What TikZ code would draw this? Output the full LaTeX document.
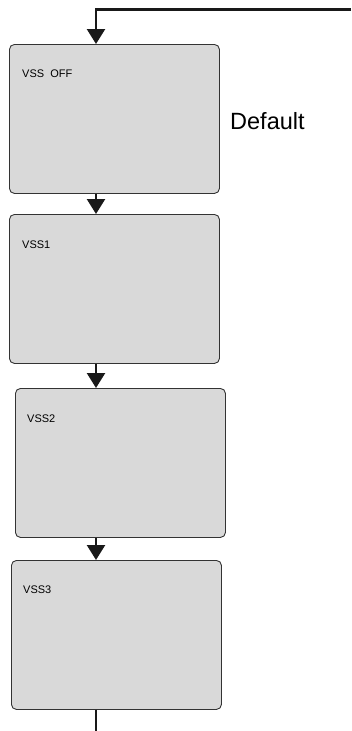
\documentclass[tikz,border=0pt]{standalone}
\usepackage{fontspec}
\setmainfont{Liberation Sans}
\usetikzlibrary{arrows.meta}

\begin{document}
\begin{tikzpicture}[x=1pt, y=-1pt,
  menubox/.style={draw=black!80, line width=0.9pt, rounded corners=5pt, fill=black!15, minimum width=210pt, minimum height=149pt, anchor=north west, inner sep=0pt},
  tag/.style={font=\fontsize{11}{13}\selectfont, anchor=base west, inner sep=0pt},
  line/.style={draw=black!90, line width=2.4pt},
  flow/.style={line, -{Triangle[width=18pt, length=15pt]}}
]
\useasboundingbox (0,0) rectangle (351,731);

\node[menubox] (off) at (9,44) {};
\node[menubox] (vss1) at (9,214) {};
\node[menubox] (vss2) at (15,388) {};
\node[menubox] (vss3) at (11,560) {};

\node[tag] (offt) at ([xshift=13pt, yshift=-33pt]off.north west) {VSS\ \ OFF};
\node[tag] (vss1t) at ([xshift=13pt, yshift=-34pt]vss1.north west) {VSS1};
\node[tag] (vss2t) at ([xshift=12pt, yshift=-34pt]vss2.north west) {VSS2};
\node[tag] (vss3t) at ([xshift=12pt, yshift=-33pt]vss3.north west) {VSS3};

\node[font=\fontsize{23.5}{26}\selectfont, anchor=base west, inner sep=0pt] (dflt) at (230,129) {Default};

\coordinate (back) at (351,9.5);
\coordinate (out) at (96,731);

\draw[flow] (back) -| ([xshift=87pt]off.north west);
\draw[flow] ([xshift=87pt]off.south west) -- ([xshift=87pt]vss1.north west);
\draw[flow] ([xshift=87pt]vss1.south west) -- ([xshift=81pt]vss2.north west);
\draw[flow] ([xshift=81pt]vss2.south west) -- ([xshift=85pt]vss3.north west);
\draw[line] ([xshift=85pt]vss3.south west) -- (out);
\end{tikzpicture}
\end{document}
